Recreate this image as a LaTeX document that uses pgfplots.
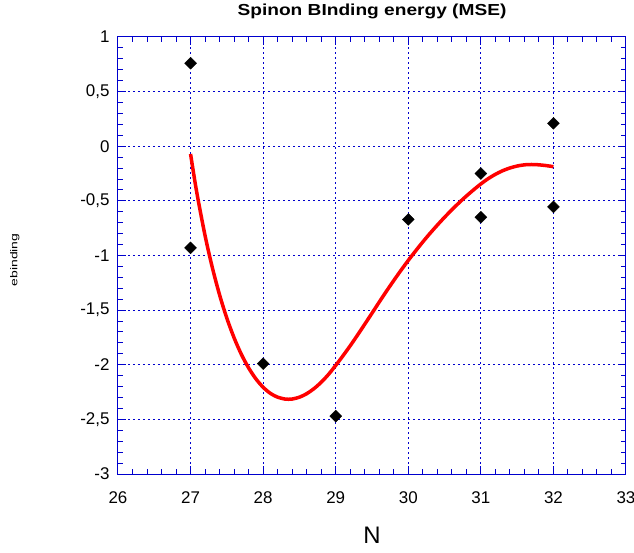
\documentclass[border=0pt]{standalone}
\usepackage{fontspec}
\setmainfont{Liberation Sans}
\usepackage{graphicx}
\usepackage{pgfplots}
\pgfplotsset{compat=1.18}

\definecolor{axblue}{RGB}{0,0,205}

\begin{document}
\begin{tikzpicture}
  \begin{axis}[
    scale only axis,
    width=508bp,
    height=437bp,
    xmin=26, xmax=33,
    ymin=-3, ymax=1,
    xtick={26,27,28,29,30,31,32,33},
    xticklabels={26,27,28,29,30,31,32,33},
    ytick={-3,-2.5,-2,-1.5,-1,-0.5,0,0.5,1},
    yticklabels={-3,{-2,5},-2,{-1,5},-1,{-0,5},0,{0,5},1},
    minor x tick num=4,
    minor y tick num=4,
    major tick length=8bp,
    minor tick length=5bp,
    axis line style={axblue, line width=1bp},
    every tick/.style={axblue, line width=1bp},
    grid=major,
    major grid style={axblue, line width=1bp, dash pattern=on 2bp off 3bp},
    tick label style={font=\fontsize{17}{20}\selectfont, text=black},
    xticklabel style={yshift=-14bp},
    yticklabel style={xshift=-5bp},
    clip=false,
  ]
    % fitted curve
    \addplot[red, line width=3.5bp, smooth] coordinates {
      (27.0,-0.071) (27.05,-0.282) (27.1,-0.476) (27.2,-0.819) (27.3,-1.111)
      (27.4,-1.361) (27.5,-1.574) (27.6,-1.754) (27.7,-1.905) (27.8,-2.029)
      (27.9,-2.129) (28.0,-2.206) (28.1,-2.262) (28.2,-2.297) (28.3,-2.314)
      (28.35,-2.316) (28.4,-2.314) (28.5,-2.297) (28.6,-2.265) (28.7,-2.219)
      (28.8,-2.160) (28.9,-2.089) (29.0,-2.006) (29.1,-1.918) (29.2,-1.826)
      (29.3,-1.729) (29.4,-1.629) (29.5,-1.528) (29.6,-1.426) (29.7,-1.326)
      (29.8,-1.229) (29.9,-1.135) (30.0,-1.045) (30.1,-0.959) (30.2,-0.876)
      (30.3,-0.797) (30.4,-0.722) (30.5,-0.650) (30.6,-0.582) (30.7,-0.517)
      (30.8,-0.456) (30.9,-0.399) (31.0,-0.345) (31.1,-0.297) (31.2,-0.257)
      (31.3,-0.224) (31.4,-0.199) (31.5,-0.181) (31.6,-0.170) (31.7,-0.167)
      (31.8,-0.170) (31.9,-0.177) (32.0,-0.187)
    };
    % data points
    \addplot[only marks, mark=square*, mark size=4.2bp,
             mark options={rotate=45, fill=black, draw=black}] coordinates {
      (27,0.76) (27,-0.93) (28,-1.99) (29,-2.47) (30,-0.67)
      (31,-0.25) (31,-0.65) (32,0.21) (32,-0.555)
    };
    \node[anchor=base] at (axis description cs:0.5,1.05) {\scalebox{1.2}[1]{\fontsize{16}{19}\selectfont\bfseries Spinon BInding energy (MSE)}};
    \node[anchor=base] at (axis description cs:0.5,-0.160) {\fontsize{24}{28}\selectfont N};
    \node[rotate=90] at (axis description cs:-0.203,0.49) {\scalebox{1.4}[1]{\fontsize{10}{12}\selectfont ebinding}};
  \end{axis}
  \pgfresetboundingbox
  \path[use as bounding box] (-118bp,-79bp) rectangle (516bp,474bp);
\end{tikzpicture}
\end{document}
